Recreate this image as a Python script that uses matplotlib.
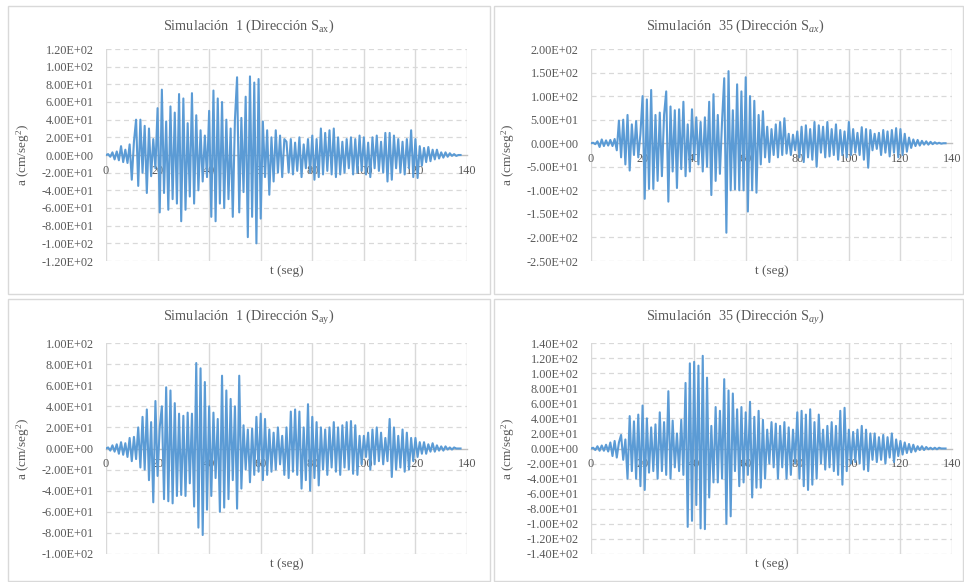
"""
Acelerogramas simulados (4 paneles, estilo Excel).
"""
import numpy as np
import matplotlib
matplotlib.use('Agg')
import matplotlib.pyplot as plt
from matplotlib.patches import Rectangle

plt.rcParams['font.family'] = ['Liberation Serif', 'DejaVu Serif']
plt.rcParams['mathtext.fontset'] = 'custom'
plt.rcParams['mathtext.rm'] = 'Liberation Serif'
plt.rcParams['mathtext.it'] = 'Liberation Serif:italic'

txt_color = '#595959'
line_color = '#5B9BD5'
grid_color = '#d9d9d9'

# picos de aceleracion (cm/seg2), bloques de 10 s
sim1_ax = [
    [0, 1, -2, 3, -5, 4, -6, 10, -8, 6, -9, 12],
    [-28, 15, 40, -35, 40, -20, 33, -43, 30, -24, 18, -15],
    [53, -65, 74, -43, 38, -62, 55, -50, 48, -55, 69, -75],
    [64, -62, 36, -47, 70, -55, 45, -40, 28, -30, 22, -25],
    [50, -70, 73, -75, 64, -55, 60, -60, 40, -50, 30, -70],
    [40, 88, -65, 42, -42, 66, -93, 89, -70, 82, -100, 86],
    [-72, 38, -25, 28, -45, 20, -30, 28, -20, 22, -25, 18],
    [15, -20, 18, -22, 14, -18, 20, -25, 12, -15, 18, -20],
    [22, -28, 18, -25, 30, -22, 25, -18, 28, -22, 30, -25],
    [20, -22, 15, -20, 18, -15, 20, -22, 18, -20, 22, -18],
    [20, -22, 14, -25, 20, -15, 22, -18, 15, -20, 25, -30],
    [25, -28, 22, -15, 18, -20, 15, -22, 18, -15, 28, -25],
    [18, -26, 10, -12, 8, -8, 9, -7, 6, -5, 6, -4],
    [3, -3, 3, -2, 2, -1, 1, -1, 0, 0],
]
sim35_ax = [
    [0, 1, -2, 4, -8, 8, -6, 6, -5, 7, -6, 9],
    [-15, 48, -30, 50, -45, 60, -58, 40, -25, 47, -30, 20],
    [100, -118, 93, -97, 113, -97, 60, -80, 65, -70, 60, 110],
    [-124, 78, -60, 70, -95, 72, -55, 88, -70, 40, -60, 72],
    [-35, 55, -45, 45, -60, 55, -50, 88, -110, 104, -80, 60],
    [-65, 48, 138, -190, 153, -100, 70, -98, 125, -100, 110, -100],
    [140, -145, 100, -100, 90, -105, 60, -45, 68, -30, 35, -40],
    [30, -25, 40, -30, 45, -25, 53, -22, 20, -25, 18, -15],
    [25, -30, 35, -40, 38, -30, 30, -35, 45, -50, 38, -20],
    [35, -30, 45, -28, 30, -25, 40, -35, 28, -25, 25, -30],
    [45, -25, 30, -20, 22, -25, 34, -35, 30, -52, 28, -15],
    [20, -12, 22, -25, 28, -20, 25, -28, 28, -20, 32, -30],
    [30, -25, 20, -18, 12, -10, 8, -6, 7, -5, 5, -3],
    [4, -3, 3, -2, 2, -1, 1, -1, 0, 0],
]
sim1_ay = [
    [0, 1, -2, 3, -3, 4, -5, 6, -6, 5, -8, 10],
    [-12, 11, -10, 20, -18, 30, -20, 37, -30, 25, -51, 45],
    [-26, 20, 40, -48, 58, -50, 55, -52, 43, -45, 33, -44],
    [31, -45, 34, -33, 33, -55, 81, -75, 76, -82, 63, -58],
    [40, -45, 34, -28, 28, -60, 69, -56, 55, -48, 47, -30],
    [40, -57, 69, -38, 22, -20, 18, -32, 19, -25, 30, -22],
    [33, -30, 28, -25, 18, -22, 15, -20, 20, -15, 12, -25],
    [20, -28, 35, -22, 37, -25, 35, -38, 20, -30, 42, -40],
    [30, -28, 25, -35, 20, -20, 18, -25, 20, -18, 25, -22],
    [20, -25, 22, -18, 25, -20, 26, -24, 22, -25, 12, -15],
    [12, -8, 15, -20, 18, -15, 20, -12, 15, -15, 10, -12],
    [28, -27, 20, -20, 12, -18, 18, -22, 15, -20, 10, -12],
    [10, -8, 6, -5, 6, -5, 4, -3, 5, -3, 3, -2],
    [2, -2, 2, -1, 1, -1, 1, 0, 0, 0],
]
sim35_ay = [
    [0, 1, -2, 3, -3, 4, -3, 5, -4, 8, -10, 10],
    [-12, 8, 18, -15, 12, -40, 43, -30, 36, -40, 45, -50],
    [57, -55, 40, -32, 28, -30, 32, -40, 48, -30, 35, -35],
    [76, -40, 37, -25, 20, -30, 38, -35, 87, -104, 113, -96],
    [115, -75, 110, -106, 123, -107, 94, -65, 30, -45, 55, -45],
    [50, -40, 92, -100, 77, -90, 73, -30, 52, -50, 55, -45],
    [48, -35, 62, -65, 42, -52, 50, -52, 38, -40, 25, -20],
    [35, -25, 33, -40, 30, -25, 35, -40, 28, -35, 25, -20],
    [48, -40, 50, -50, 45, -55, 52, -48, 35, -40, 45, -20],
    [25, -28, 30, -25, 35, -30, 30, -35, 50, -48, 54, -30],
    [25, -20, 22, -18, 25, -20, 30, -28, 25, -30, 20, -15],
    [20, -18, 15, -15, 18, -20, 15, -12, 20, -18, 12, -10],
    [10, -8, 8, -6, 6, -5, 5, -4, 3, -2, 3, -2],
    [2, -1, 1, -1, 1, -1, 1, 0, 0, 0],
]

x_ticks = [0, 20, 40, 60, 80, 100, 120, 140]
yticks_1ax = [-120, -100, -80, -60, -40, -20, 0, 20, 40, 60, 80, 100, 120]
yticks_35ax = [-250, -200, -150, -100, -50, 0, 50, 100, 150, 200]
yticks_1ay = [-100, -80, -60, -40, -20, 0, 20, 40, 60, 80, 100]
yticks_35ay = [-140, -120, -100, -80, -60, -40, -20, 0, 20, 40, 60, 80, 100, 120, 140]

titles = ['Simulación  1 (Dirección S$_{\\mathrm{ax}}$)',
          'Simulación  35 (Dirección S$_{ax}$)',
          'Simulación  1 (Dirección S$_{\\mathrm{ay}}$)',
          'Simulación  35 (Dirección S$_{ay}$)']


def to_series(chunks, block=10.0, per_block=12):
    """Une los bloques de picos en una serie tiempo-aceleracion."""
    step = block / per_block
    t, a = [], []
    for k, chunk in enumerate(chunks):
        for i, v in enumerate(chunk):
            t.append(k * block + i * step)
            a.append(v)
    return np.array(t), np.array(a, dtype=float)


W, H = 964, 582
fig = plt.figure(figsize=(W / 100, H / 100), dpi=100)

# marcos de cada grafico (px: x0, y0, x1, y1)
frames = [(8, 6, 490, 294), (494, 6, 963, 294), (8, 299, 490, 581), (494, 299, 963, 581)]
for x0, y0, x1, y1 in frames:
    fig.patches.append(Rectangle((x0 / W, 1 - y1 / H), (x1 - x0) / W, (y1 - y0) / H,
                                 transform=fig.transFigure, fill=False,
                                 edgecolor=grid_color, linewidth=1.0))

# areas de trazado en px (x0, y0, x1, y1)
plot_boxes = [(106, 49, 467, 261), (591, 49, 952, 261), (106, 343, 467, 554), (591, 343, 952, 554)]
title_pos = [(249, 26), (735, 26), (249, 318), (735, 318)]
series = [sim1_ax, sim35_ax, sim1_ay, sim35_ay]
yticks_all = [yticks_1ax, yticks_35ax, yticks_1ay, yticks_35ay]

for box, tp, data, yt, title in zip(plot_boxes, title_pos, series, yticks_all, titles):
    x0, y0, x1, y1 = box
    ax = fig.add_axes([x0 / W, 1 - y1 / H, (x1 - x0) / W, (y1 - y0) / H])
    t, a = to_series(data)
    ax.plot(t, a, color=line_color, linewidth=1.5, zorder=3)
    ax.set_xlim(0, 140)
    ax.set_ylim(yt[0], yt[-1])
    ax.set_xticks(x_ticks)
    ax.set_yticks(yt)
    ax.set_yticklabels(['%.2E' % v for v in yt])
    for g in yt:
        if g != 0:
            ax.axhline(g, color=grid_color, linewidth=0.9, linestyle=(0, (4, 3)), zorder=1)
    for g in x_ticks:
        ax.axvline(g, color=grid_color, linewidth=1.0, zorder=1)
    for side in ['top', 'right', 'left']:
        ax.spines[side].set_visible(False)
    ax.spines['bottom'].set_position(('data', 0))
    ax.spines['bottom'].set_color('#bfbfbf')
    ax.spines['bottom'].set_linewidth(1.0)
    ax.spines['bottom'].set_zorder(2)
    ax.tick_params(axis='both', length=0, labelsize=8.8, labelcolor=txt_color)
    ax.tick_params(axis='x', pad=7)
    ax.tick_params(axis='y', pad=9)
    ax.set_ylabel('a (cm/seg$^{\\mathrm{2}}$)', fontsize=9.5, color=txt_color)
    ax.yaxis.set_label_coords(-0.205, 0.5)
    ax.set_xlabel('t (seg)', fontsize=9.5, color=txt_color, va='center')
    ax.xaxis.set_label_coords(0.5, -10.0 / (y1 - y0))
    fig.text(tp[0] / W, 1 - tp[1] / H, title, fontsize=10.3, color=txt_color,
             ha='center', va='center')

plt.savefig('out.png', dpi=100)
